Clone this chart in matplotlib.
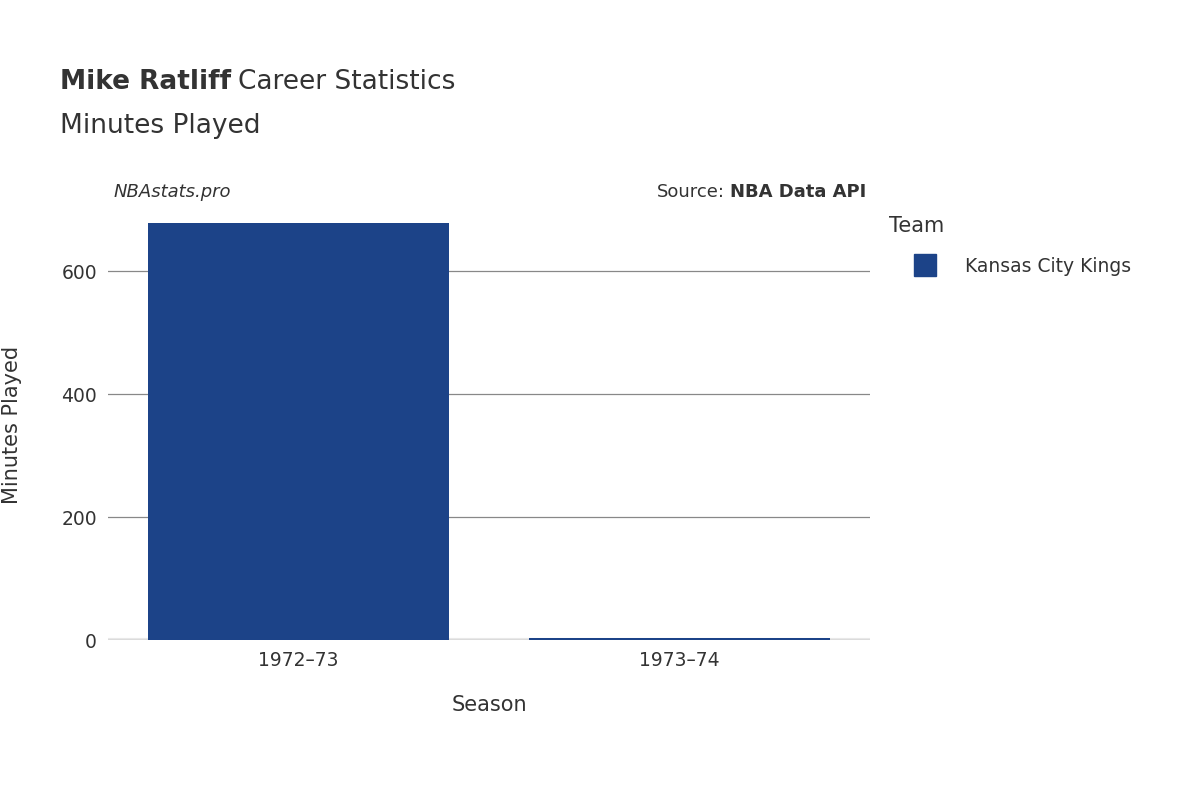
import matplotlib.pyplot as plt

seasons = ["1972\u201373", "1973\u201374"]
minutes = [678, 3]
team = "Kansas City Kings"
yticks = [0, 200, 400, 600]

color = "#1c4388"
txt = "#333333"

fig = plt.figure(figsize=(12, 8), dpi=100)
ax = fig.add_axes([0.09, 0.2, 0.635, 0.538])
ax.bar(range(len(seasons)), minutes, width=0.79, color=color, zorder=2)
ax.set_xlim(-0.5, 1.5)
ax.set_ylim(0, 700)
ax.set_yticks(yticks)
ax.set_xticks(range(len(seasons)))
ax.set_xticklabels(seasons)
ax.tick_params(axis="both", length=0, labelsize=13.5, colors=txt, pad=8)
ax.grid(axis="y", color="#888888", linewidth=0.9, zorder=0)
ax.axhline(0, color="#e8e8e8", linewidth=3, zorder=1)
for s in ax.spines.values():
    s.set_visible(False)
ax.set_xlabel("Season", fontsize=15, color=txt, labelpad=18)
ax.set_ylabel("Minutes Played", fontsize=15, color=txt, labelpad=28)

t1 = fig.text(0.05, 0.889, "Mike Ratliff", fontsize=19, fontweight="bold", color=txt, va="baseline")
fig.canvas.draw()
bb = t1.get_window_extent()
fig.text(bb.x1 / 1200 + 0.006, 0.889, "Career Statistics", fontsize=19, color=txt, va="baseline")
fig.text(0.05, 0.834, "Minutes Played", fontsize=19, color=txt, va="baseline")

fig.text(0.095, 0.76, "NBAstats.pro", fontsize=13, style="italic", color=txt, va="center")
s2 = fig.text(0.722, 0.76, "NBA Data API", fontsize=13, fontweight="bold", color=txt, va="center", ha="right")
fig.canvas.draw()
bb2 = s2.get_window_extent()
fig.text(bb2.x0 / 1200 - 0.004, 0.76, "Source:", fontsize=13, color=txt, va="center", ha="right")

fig.text(0.741, 0.717, "Team", fontsize=15, color=txt, va="center")
fig.patches.append(plt.Rectangle((0.762, 0.655), 0.018, 0.027, transform=fig.transFigure,
                                 color=color, figure=fig))
fig.text(0.804, 0.667, team, fontsize=13.5, color=txt, va="center")

fig.savefig("out.png", dpi=100)
